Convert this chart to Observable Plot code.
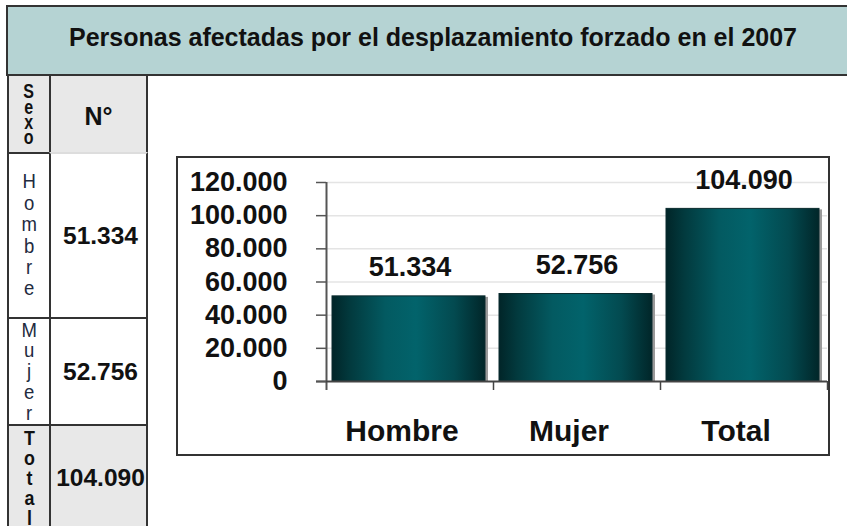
<!DOCTYPE html>
<html>
<head>
<meta charset="utf-8">
<script src="https://cdn.jsdelivr.net/npm/d3@7"></script>
<script src="https://cdn.jsdelivr.net/npm/@observablehq/plot@0.6"></script>
<style>
  body { margin: 0; background: #fff; font-family: "Liberation Sans", Arial, sans-serif; }
  #page { position: relative; width: 847px; height: 526px; overflow: hidden; background: #fff; }
  .cell { position: absolute; box-sizing: border-box; border: 2px solid #333; display: flex; align-items: center; justify-content: center; color: #111; }
  .title { background: #b5d3d3; font-weight: bold; font-size: 25px; }
  .hdr { background: #e8e8e8; }
  .stack { text-align: center; }
  #chartbox { position: absolute; left: 176px; top: 156px; width: 654px; height: 300px; box-sizing: border-box; border: 2px solid #333; background: #fff; }
  #chartbox svg { display: block; }
</style>
</head>
<body>
<div id="page"></div>
<script>
// ---- data ----
const titleText = "Personas afectadas por el desplazamiento forzado en el 2007";
const headerSexo = "Sexo";
const headerNum = "N°";
const categories = ["Hombre", "Mujer", "Total"];
const values = [51334, 52756, 104090];
const yTicks = [0, 20000, 40000, 60000, 80000, 100000, 120000];

const es = d3.formatLocale({decimal: ",", thousands: ".", grouping: [3], currency: ["", "€"]});
const fmt = es.format(",d");

const page = document.getElementById("page");
function cell(x, y, w, h, cls, html, style = "") {
  const d = document.createElement("div");
  d.className = "cell " + cls;
  d.style.cssText = `left:${x}px;top:${y}px;width:${w}px;height:${h}px;${style}`;
  d.innerHTML = html;
  page.appendChild(d);
  return d;
}
function stacked(word, size, lh, weight, color, sx) {
  return `<div class="stack" style="font-size:${size}px;line-height:${lh}px;font-weight:${weight};color:${color};transform:scaleX(${sx})">` +
    word.split("").join("<br>") + "</div>";
}

// title band
cell(6, 5, 846, 71, "title", `<span style="position:relative;left:4px;top:-3px">${titleText}</span>`);
// header row
cell(7, 74, 44, 80, "hdr", `<div style="position:relative;top:1px">${stacked(headerSexo, 20, 15.3, "bold", "#111", 0.8)}</div>`);
cell(49, 74, 99, 80, "hdr", `<span style="font-weight:bold;font-size:25px;position:relative;top:2px">${headerNum}</span>`);
// rows
const rows = [
  {y: 152, h: 167, bg: "#fff", weight: "normal", size: 19.5, lh: 21.4, color: "#222a3e", sx: 0.95},
  {y: 317, h: 109, bg: "#fff", weight: "normal", size: 19.5, lh: 20.8, color: "#222a3e", sx: 0.95},
  {y: 424, h: 108, bg: "#e8e8e8", weight: "bold", size: 21, lh: 20, color: "#111", sx: 0.85}
];
categories.forEach((c, i) => {
  const r = rows[i];
  cell(7, r.y, 44, r.h, "", stacked(c, r.size, r.lh, r.weight, r.color, r.sx), `background:${r.bg}`);
  cell(49, r.y, 99, r.h, "", `<span style="font-weight:bold;font-size:24.5px;position:relative;left:2px">${fmt(values[i])}</span>`, `background:${r.bg}`);
});
// soften the Hombre/Mujer divider in the first column
page.querySelectorAll(".cell")[4].style.borderTopColor = "#ddd";

// ---- chart ----
const box = document.createElement("div");
box.id = "chartbox";
page.appendChild(box);

const data = categories.map((c, i) => ({category: c, value: values[i]}));
const W = 650, H = 296, mL = 148, mR = 1, mT = 24, mB = 73;
const step = (W - mL - mR) / categories.length;

const chart = Plot.plot({
  width: W,
  height: H,
  marginLeft: mL,
  marginRight: mR,
  marginTop: mT,
  marginBottom: mB,
  style: {fontFamily: "'Liberation Sans', Arial, sans-serif", color: "#111", background: "#fff", overflow: "visible"},
  x: {domain: categories, padding: 0, label: null},
  y: {domain: [0, 120000], label: null},
  marks: [
    Plot.ruleY(yTicks.slice(1), {stroke: "#e4e4e4", strokeWidth: 1.5}),
    Plot.barY(data, {x: "category", y: "value", fill: "#9a9a9a", insetLeft: 9, insetRight: 5, dy: 1}),
    Plot.barY(data, {x: "category", y: "value", fill: "url(#barGrad)", stroke: "#0b2b2e", strokeWidth: 1, insetLeft: 6, insetRight: 8}),
    Plot.ruleX(categories, {x: d => d, dx: step / 2, insetTop: H - mT - mB, insetBottom: -9, stroke: "#444", strokeWidth: 1.5}),
    Plot.ruleX([categories[0]], {x: d => d, dx: -step / 2, insetBottom: -9, stroke: "#555", strokeWidth: 2}),
    Plot.ruleY([0], {insetLeft: -10, stroke: "#444", strokeWidth: 2}),
    Plot.axisY({ticks: yTicks, tickSize: 10, tickPadding: 29, tickFormat: fmt, fontSize: 27, fontWeight: "bold", stroke: "#555", strokeWidth: 1.5, label: null}),
    Plot.axisX({tickSize: 0, tickPadding: 38, fontSize: 30, fontWeight: "bold", dx: -8, label: null}),
    Plot.text(data, {x: "category", y: "value", text: d => fmt(d.value), dy: -29, fontSize: 27, fontWeight: "bold", fill: "#111"})
  ]
});

// horizontal cylinder-like gradient for the bars
const defs = d3.select(chart).insert("defs", ":first-child");
const g = defs.append("linearGradient").attr("id", "barGrad").attr("x1", 0).attr("x2", 1).attr("y1", 0).attr("y2", 0);
[[0, "#012528"], [0.12, "#023a3e"], [0.35, "#035a61"], [0.55, "#02636b"], [0.8, "#034a50"], [1, "#012629"]]
  .forEach(([o, c]) => g.append("stop").attr("offset", o).attr("stop-color", c));

box.appendChild(chart);
</script>
</body>
</html>
